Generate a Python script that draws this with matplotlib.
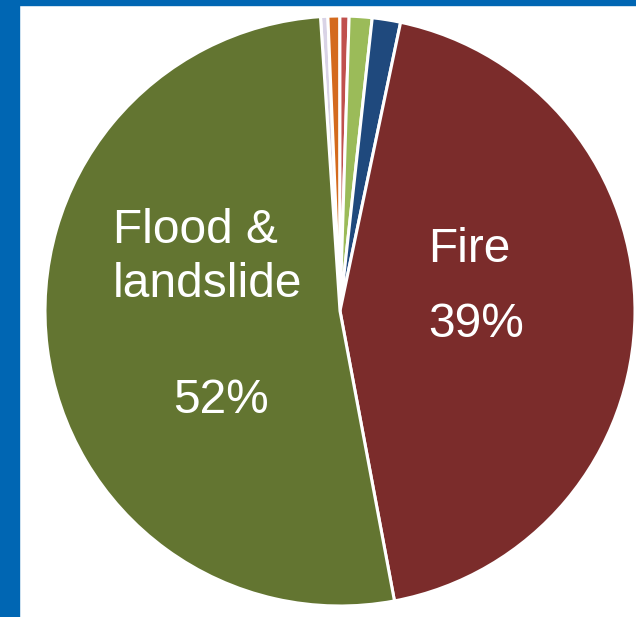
import matplotlib.pyplot as plt
from matplotlib.patches import Rectangle

# slice shares, clockwise from just left of 12 o'clock
categories = ["Other 1", "Other 2", "Other 3", "Other 4", "Other 5", "Fire", "Flood & landslide"]
shares = [0.4, 0.65, 0.5, 1.25, 1.55, 43.75, 51.9]
colors = ["#d9d3e6", "#d46a1e", "#c0504d", "#9bbb59", "#1f497d", "#7b2c2b", "#637531"]

W, H = 636, 617
fig = plt.figure(figsize=(W / 100, H / 100), dpi=100)
fig.patch.set_facecolor("white")

# blue frame on left and top
blue = "#0066b3"
fig.add_artist(Rectangle((0, 0), 19 / W, 1, transform=fig.transFigure, color=blue, zorder=0))
fig.add_artist(Rectangle((0, 1 - 5 / H), 1, 5 / H, transform=fig.transFigure, color=blue, zorder=0))

cx, cy, r = 340, 311, 295
ax = fig.add_axes([(cx - r) / W, (H - cy - r) / H, 2 * r / W, 2 * r / H])
ax.pie(shares, colors=colors, startangle=93.8, counterclock=False,
       wedgeprops=dict(edgecolor="white", linewidth=2.2))
ax.set_xlim(-1, 1)
ax.set_ylim(-1, 1)
ax.set_aspect("equal")
ax.axis("off")

font = dict(color="white", fontsize=34.5, family="Liberation Sans", va="baseline")

def put(x, y, s, ha="left"):
    fig.text(x / W, 1 - y / H, s, ha=ha, **font)

put(113, 243, "Flood &")
put(113, 297, "landslide")
put(221, 413, "52%", ha="center")
put(428, 262, "Fire")
put(428, 337, "39%")

fig.savefig("out.png", dpi=100)
